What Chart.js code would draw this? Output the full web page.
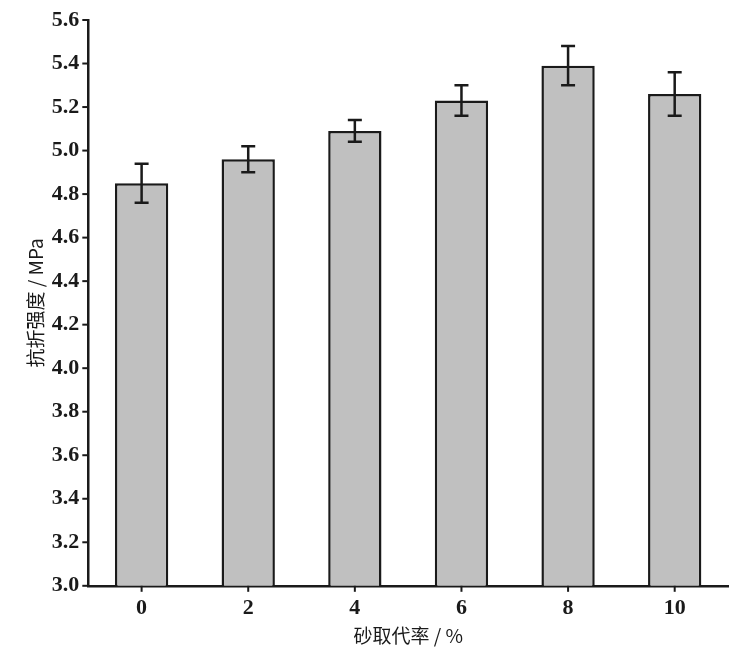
<!DOCTYPE html>
<html><head><meta charset="utf-8">
<script src="https://cdn.jsdelivr.net/npm/chart.js@4"></script>
<style>html,body{margin:0;background:#fff}#w{width:746px;height:659px}</style>
</head><body><div id="w"><canvas id="c"></canvas></div>
<script>
const categories=['0','2','4','6','8','10'];
const strength=[4.85,4.96,5.09,5.23,5.39,5.26];
const errors=[0.09,0.06,0.05,0.07,0.09,0.10];
const yTicks=[3.0,3.2,3.4,3.6,3.8,4.0,4.2,4.4,4.6,4.8,5.0,5.2,5.4,5.6];
const errPlugin={id:'err',afterDatasetsDraw(ch){
 const ctx=ch.ctx,y=ch.scales.y,meta=ch.getDatasetMeta(0);
 ctx.save();ctx.strokeStyle='#1a1a1a';ctx.lineWidth=2.5;
 meta.data.forEach((b,i)=>{const x=b.x,t=y.getPixelForValue(strength[i]+errors[i]),bo=y.getPixelForValue(strength[i]-errors[i]);
 ctx.beginPath();ctx.moveTo(x,t);ctx.lineTo(x,bo);ctx.moveTo(x-7,t);ctx.lineTo(x+7,t);ctx.moveTo(x-7,bo);ctx.lineTo(x+7,bo);ctx.stroke();});
 ctx.restore();}};
const font={family:'"Liberation Serif", serif',size:22,weight:'bold'};
new Chart(document.getElementById('c'),{type:'bar',
data:{labels:categories,datasets:[{data:strength,backgroundColor:'#c0c0c0',borderColor:'#1a1a1a',borderWidth:2.5,categoryPercentage:1,barPercentage:0.5}]},
options:{responsive:true,maintainAspectRatio:false,animation:false,
layout:{padding:{top:20,right:18,left:20,bottom:8}},
plugins:{legend:{display:false},tooltip:{enabled:false}},
scales:{
x:{grid:{display:false,drawTicks:true,tickLength:6,color:'#1a1a1a'},border:{color:'#1a1a1a',width:2.5},
 ticks:{color:'#1a1a1a',font},
 title:{display:true,text:'砂取代率 / %',color:'#1a1a1a',font:{family:'"Noto Sans CJK SC","Liberation Serif"',size:19},padding:{top:0}}},
y:{min:3.0,max:5.6,afterBuildTicks:a=>{a.ticks=yTicks.map(v=>({value:v}));},
 grid:{display:false,drawTicks:true,tickLength:6},border:{color:'#1a1a1a',width:2.5},
 ticks:{color:'#1a1a1a',font,callback:v=>v.toFixed(1)},
 title:{display:true,text:'抗折强度 / MPa',color:'#1a1a1a',font:{family:'"Noto Sans CJK SC","Liberation Serif"',size:19},padding:{bottom:2}}}
}},plugins:[errPlugin,{id:'tk',afterDraw(ch){const c=ch.ctx,a=ch.chartArea,y=ch.scales.y,x=ch.scales.x;c.save();c.strokeStyle='#1a1a1a';c.lineWidth=2;
 yTicks.forEach(v=>{const p=y.getPixelForValue(v);c.beginPath();c.moveTo(a.left-6,p);c.lineTo(a.left,p);c.stroke();});
 categories.forEach((_,i)=>{const p=x.getPixelForValue(i);c.beginPath();c.moveTo(p,a.bottom);c.lineTo(p,a.bottom+6);c.stroke();});c.restore();}}]});
</script></body></html>
